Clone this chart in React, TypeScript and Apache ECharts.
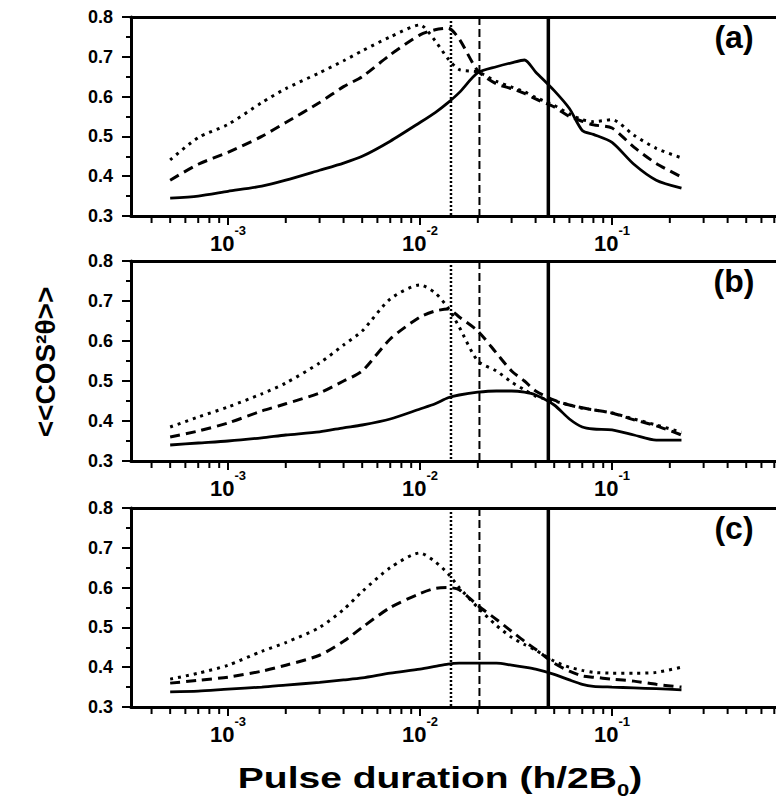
import React, { useEffect, useRef } from 'react';
import * as echarts from 'echarts';

// Pulse duration (h/2B0) sample positions shared by all curves
const xs = [5e-4, 7e-4, 1e-3, 1.5e-3, 2e-3, 3e-3, 4e-3, 5e-3, 7e-3, 0.01, 0.012, 0.014, 0.016, 0.02, 0.025, 0.03, 0.035, 0.04, 0.05, 0.06, 0.07, 0.08, 0.1, 0.13, 0.17, 0.23];

// Panel (a)
const aDot = [0.441, 0.497, 0.53, 0.585, 0.62, 0.66, 0.69, 0.715, 0.75, 0.78, 0.74, 0.695, 0.668, 0.662, 0.638, 0.624, 0.612, 0.598, 0.578, 0.556, 0.542, 0.537, 0.542, 0.503, 0.47, 0.446];
const aDash = [0.39, 0.43, 0.46, 0.5, 0.535, 0.585, 0.625, 0.65, 0.705, 0.755, 0.768, 0.772, 0.745, 0.665, 0.632, 0.62, 0.608, 0.594, 0.574, 0.55, 0.538, 0.529, 0.521, 0.473, 0.432, 0.398];
const aSolid = [0.345, 0.35, 0.362, 0.375, 0.39, 0.415, 0.433, 0.45, 0.488, 0.535, 0.56, 0.585, 0.61, 0.66, 0.675, 0.685, 0.692, 0.662, 0.615, 0.57, 0.515, 0.505, 0.485, 0.43, 0.39, 0.37];

// Panel (b)
const bDot = [0.385, 0.41, 0.435, 0.468, 0.495, 0.545, 0.59, 0.625, 0.705, 0.74, 0.72, 0.683, 0.635, 0.55, 0.525, 0.497, 0.478, 0.462, 0.45, 0.44, 0.432, 0.428, 0.42, 0.405, 0.39, 0.372];
const bDash = [0.36, 0.375, 0.395, 0.425, 0.443, 0.47, 0.5, 0.525, 0.605, 0.66, 0.675, 0.68, 0.66, 0.625, 0.57, 0.525, 0.5, 0.475, 0.452, 0.44, 0.433, 0.428, 0.42, 0.403, 0.388, 0.365];
const bSolid = [0.34, 0.345, 0.35, 0.358, 0.365, 0.373, 0.383, 0.39, 0.405, 0.43, 0.443, 0.458, 0.465, 0.472, 0.475, 0.475, 0.472, 0.465, 0.44, 0.405, 0.385, 0.38, 0.378, 0.365, 0.352, 0.352];

// Panel (c)
const cDot = [0.37, 0.385, 0.405, 0.44, 0.462, 0.5, 0.545, 0.59, 0.65, 0.687, 0.665, 0.635, 0.6, 0.55, 0.505, 0.475, 0.457, 0.443, 0.415, 0.4, 0.392, 0.387, 0.385, 0.385, 0.387, 0.4];
const cDash = [0.36, 0.367, 0.375, 0.39, 0.405, 0.43, 0.465, 0.5, 0.55, 0.585, 0.598, 0.6, 0.595, 0.555, 0.52, 0.49, 0.465, 0.445, 0.41, 0.39, 0.378, 0.375, 0.37, 0.365, 0.357, 0.35];
const cSolid = [0.338, 0.34, 0.345, 0.35, 0.355, 0.362, 0.368, 0.373, 0.385, 0.395, 0.402, 0.408, 0.41, 0.41, 0.41, 0.405, 0.4, 0.395, 0.382, 0.368, 0.357, 0.352, 0.35, 0.348, 0.346, 0.343];

// Vertical reference lines (dotted, dashed, solid)
const vLines = [0.0145, 0.0204, 0.0466];

// Minor log ticks
const minorXTicks = [
  4e-4, 5e-4, 6e-4, 7e-4, 8e-4, 9e-4,
  2e-3, 3e-3, 4e-3, 5e-3, 6e-3, 7e-3, 8e-3, 9e-3,
  2e-2, 3e-2, 4e-2, 5e-2, 6e-2, 7e-2, 8e-2, 9e-2,
  2e-1, 3e-1, 4e-1, 5e-1, 6e-1, 7e-1,
];

const panelLabels = ['(a)', '(b)', '(c)'];
const yTitle = '<<COS²θ>>';
const xTitleMain = 'Pulse duration (h/2B';
const xTitleSub = '0';

const panels = [
  [aDot, aDash, aSolid],
  [bDot, bDash, bSolid],
  [cDot, cDash, cSolid],
];

const FONT = "'Liberation Sans', Arial, sans-serif";
const XMIN = Math.pow(10, -3.505);
const XMAX = Math.pow(10, -0.146);
const YMIN = 0.3;
const YMAX = 0.8;
const gridTops = [17, 261, 508];
const gridHeights = [199, 200, 199];
const curveTypes: any[] = [[3, 5], [10, 6], 'solid'];
const vLineStyles: any[] = [
  { lineDash: [2, 2], lineWidth: 2.5 },
  { lineDash: [8, 4], lineWidth: 2 },
  { lineDash: null, lineWidth: 3.5 },
];

export default function App() {
  const ref = useRef<HTMLDivElement>(null);
  useEffect(() => {
    if (!ref.current) return;
    const chart = echarts.init(ref.current, null, { renderer: 'svg' });

    const grid: any[] = [];
    const xAxis: any[] = [];
    const yAxis: any[] = [];
    const series: any[] = [];

    panels.forEach((curves, i) => {
      grid.push({ left: 131, right: 0, top: gridTops[i], height: gridHeights[i] });
      xAxis.push({
        type: 'log',
        logBase: 10,
        gridIndex: i,
        min: XMIN,
        max: XMAX,
        position: 'bottom',
        axisLine: { show: true, lineStyle: { color: '#000', width: 3 } },
        axisTick: { show: true, inside: false, length: 9, lineStyle: { color: '#000', width: 2 } },
        minorTick: { show: false },
        splitLine: { show: false },
        axisLabel: {
          show: true,
          margin: 8,
          showMinLabel: false,
          showMaxLabel: false,
          formatter: (v: number) => {
            const e = Math.log10(v);
            if (Math.abs(e - Math.round(e)) > 1e-6) return '';
            return `{b|10}{s|${Math.round(e)}}`;
          },
          rich: {
            b: { fontSize: 22, fontWeight: 'bold', fontFamily: FONT, color: '#000', lineHeight: 30, verticalAlign: 'bottom' },
            s: { fontSize: 13, fontWeight: 'bold', fontFamily: FONT, color: '#000', lineHeight: 11, verticalAlign: 'top' },
          },
        },
      });
      xAxis.push({
        type: 'value',
        gridIndex: i,
        position: 'top',
        axisLine: { show: true, onZero: false, lineStyle: { color: '#000', width: 3 } },
        axisTick: { show: false },
        axisLabel: { show: false },
        splitLine: { show: false },
      });
      yAxis.push({
        type: 'value',
        gridIndex: i,
        min: YMIN,
        max: YMAX,
        interval: 0.1,
        axisLine: { show: true, lineStyle: { color: '#000', width: 3 } },
        axisTick: { show: true, inside: false, length: 9, lineStyle: { color: '#000', width: 2 } },
        minorTick: { show: true, splitNumber: 2, length: 5, lineStyle: { color: '#000', width: 2 } },
        splitLine: { show: false },
        axisLabel: {
          margin: 18,
          color: '#000',
          fontSize: 18,
          fontWeight: 'bold',
          fontFamily: FONT,
          formatter: (v: number) => v.toFixed(1),
        },
      });

      curves.forEach((vals, k) => {
        series.push({
          type: 'line',
          xAxisIndex: 2 * i,
          yAxisIndex: i,
          data: xs.map((x, j) => [x, vals[j]]),
          showSymbol: false,
          symbol: 'none',
          smooth: 0.25,
          lineStyle: { color: '#000', width: k === 2 ? 2.8 : 3, type: curveTypes[k] },
          silent: true,
          z: 3,
        });
      });

      // vertical reference lines
      series.push({
        type: 'custom',
        xAxisIndex: 2 * i,
        yAxisIndex: i,
        silent: true,
        clip: false,
        z: 4,
        data: vLines.map((v, m) => [v, m]),
        renderItem: (params: any, api: any) => {
          const x = api.value(0);
          const m = api.value(1);
          const top = api.coord([x, YMAX]);
          const bot = api.coord([x, YMIN]);
          return {
            type: 'line',
            shape: { x1: top[0], y1: top[1], x2: bot[0], y2: bot[1] },
            style: { stroke: '#000', ...vLineStyles[m] },
          };
        },
      });

      // minor log ticks on the bottom axis
      series.push({
        type: 'custom',
        xAxisIndex: 2 * i,
        yAxisIndex: i,
        silent: true,
        clip: false,
        z: 10,
        data: minorXTicks.map((v) => [v, YMIN]),
        renderItem: (params: any, api: any) => {
          const p = api.coord([api.value(0), api.value(1)]);
          return {
            type: 'rect',
            shape: { x: p[0] - 1, y: p[1], width: 2, height: 7 },
            style: { fill: '#000' },
          };
        },
      });
    });

    const graphic: any[] = [];
    panelLabels.forEach((t, i) => {
      graphic.push({
        type: 'text',
        x: 734,
        y: gridTops[i] + 20,
        style: {
          text: t,
          font: `bold 32px ${FONT}`,
          fill: '#000',
          textAlign: 'center',
          textVerticalAlign: 'middle',
        },
      });
    });
    graphic.push({
      type: 'text',
      x: 45,
      y: 362,
      rotation: Math.PI / 2,
      style: {
        text: yTitle,
        font: `bold 28px ${FONT}`,
        fill: '#000',
        textAlign: 'center',
        textVerticalAlign: 'middle',
      },
    });
    graphic.push({
      type: 'text',
      x: 440,
      y: 778,
      scaleX: 1.3,
      style: {
        text: `{m|${xTitleMain}}{sub|${xTitleSub}}{m|)}`,
        textAlign: 'center',
        textVerticalAlign: 'middle',
        fill: '#000',
        rich: {
          m: { font: `bold 30px ${FONT}`, fill: '#000', lineHeight: 40, verticalAlign: 'middle' },
          sub: { font: `bold 17px ${FONT}`, fill: '#000', lineHeight: 14, verticalAlign: 'bottom' },
        },
      },
    });

    chart.setOption({
      animation: false,
      backgroundColor: '#fff',
      grid,
      xAxis,
      yAxis,
      series,
      graphic,
    });
    return () => chart.dispose();
  }, []);

  return (
    <div
      ref={ref}
      style={{ position: 'fixed', left: 0, top: 0, width: 776, height: 801, background: '#fff' }}
    />
  );
}
